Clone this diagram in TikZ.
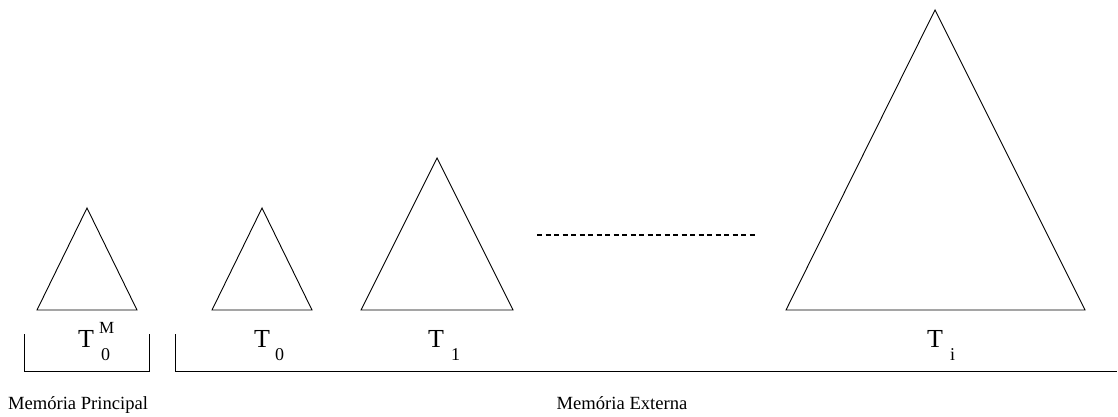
\documentclass[tikz,border=0pt]{standalone}
\usepackage{fontspec}
\setmainfont{Liberation Serif}
\begin{document}
\begin{tikzpicture}[x=1pt,y=-1pt,
  tri/.style={draw,line width=0.9pt,line join=miter},
  brk/.style={draw,line width=0.9pt},
  bigT/.style={font=\fontsize{26}{28}\selectfont,inner sep=0pt,anchor=base},
  scr/.style={font=\fontsize{18}{20}\selectfont,inner sep=0pt,anchor=base west},
  sup/.style={font=\fontsize{17}{19}\selectfont,inner sep=0pt,anchor=base west},
  lbl/.style={font=\fontsize{18.6}{20}\selectfont,inner sep=0pt,anchor=base},
  dots/.style={line width=2.4pt,dash pattern=on 5pt off 3.5pt}]
\useasboundingbox (0,0) rectangle (1118,416);
% triangles
\draw[tri] (37,310) -- (87,208) -- (137,310) -- cycle;
\draw[tri] (212,310) -- (262,208) -- (312,310) -- cycle;
\draw[tri] (361,310) -- (437,158) -- (513,310) -- cycle;
\draw[tri] (786,310) -- (935,10) -- (1085,310) -- cycle;
% dotted line
\coordinate (d1) at (537,235);
\coordinate (d2) at (757,235);
\draw[dots] (d1) -- (d2);
% brackets
\draw[brk] (24,334) -- (24,371) -- (149,371) -- (149,334);
\draw[brk] (175,334) -- (175,371) -- (1117,371);
% labels
\node[bigT] (t0m) at (86,347) {T};
\node[sup] (t0msup) at (99,333) {M};
\node[scr] (t0msub) at (101,360) {0};
\node[bigT] (t0) at (262,347) {T};
\node[scr] (t0sub) at (275,360) {0};
\node[bigT] (t1) at (436,347) {T};
\node[scr] (t1sub) at (451,360) {1};
\node[bigT] (ti) at (935,347) {T};
\node[scr] (tisub) at (950,360) {i};
\node[lbl] (mp) at (78,409) {Memória Principal};
\node[lbl] (me) at (622,409) {Memória Externa};
\end{tikzpicture}
\end{document}
